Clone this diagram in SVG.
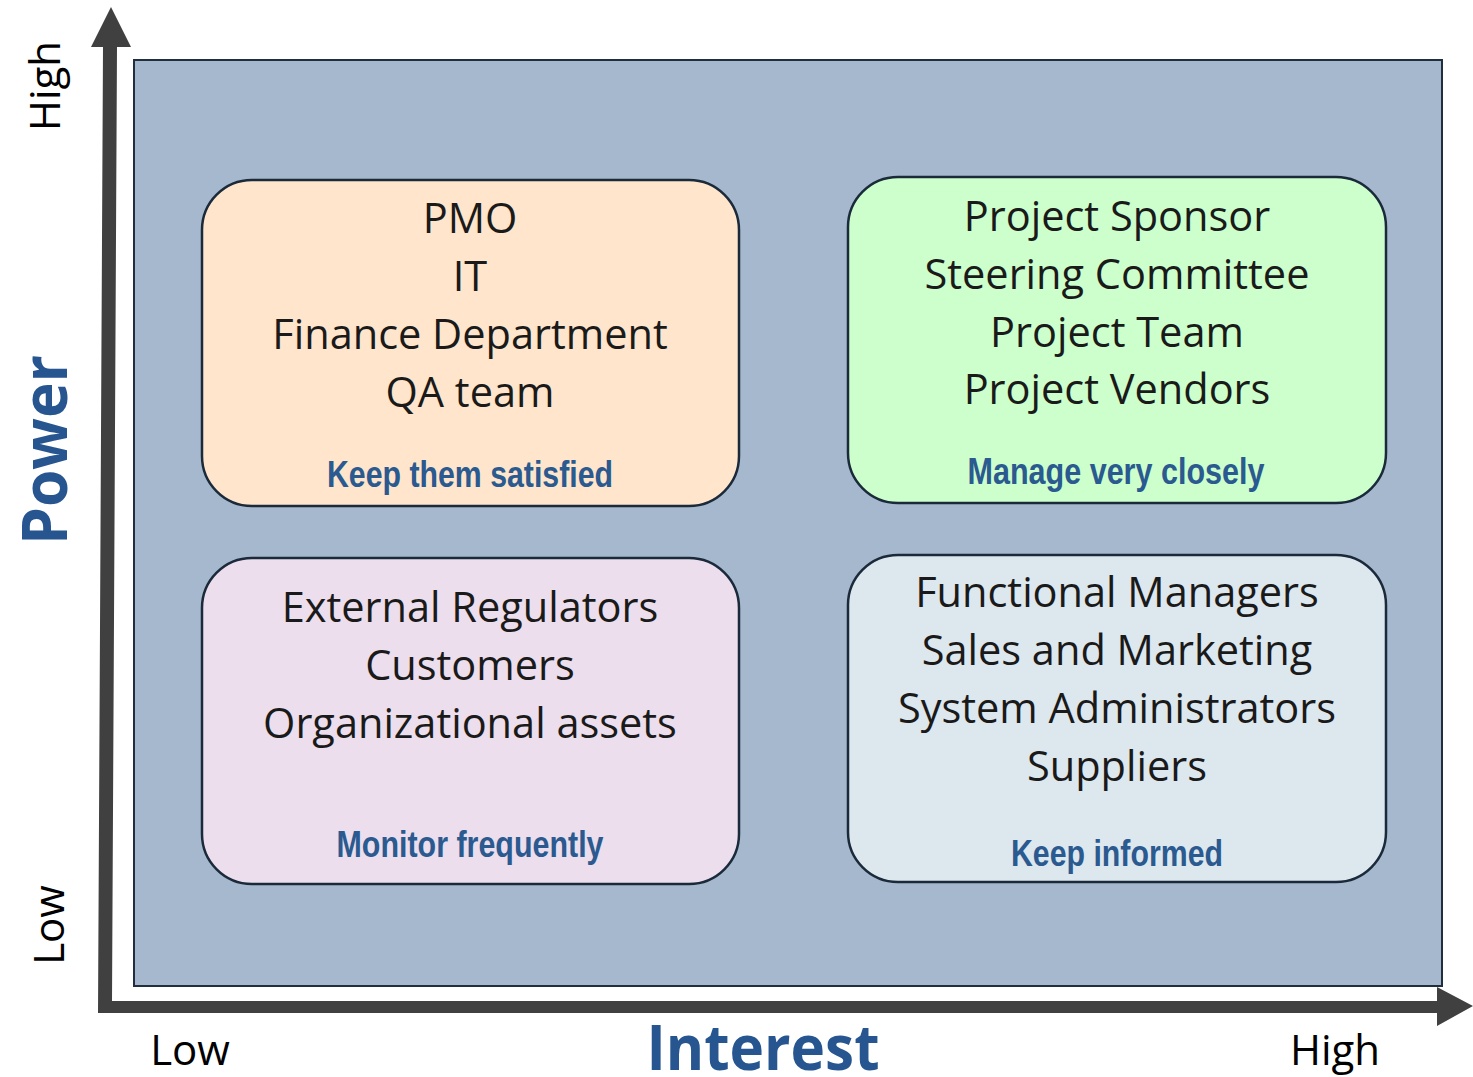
<svg xmlns="http://www.w3.org/2000/svg" width="1473" height="1077" viewBox="0 0 1473 1077">
<style>
.box{stroke:#1b2a3a;stroke-width:2.5}
.t{font-family:"Open Sans","Liberation Sans",sans-serif;font-size:41.5px;fill:#1a1a1a;text-anchor:middle}
.lbl{font-family:"Liberation Sans Narrow","Liberation Sans",sans-serif;font-weight:bold;font-size:36px;fill:#2a5a8f;text-anchor:middle}
.ax{font-family:"Open Sans","Liberation Sans",sans-serif;font-size:42px;fill:#000;text-anchor:middle}
.big{font-family:"Open Sans","Liberation Sans",sans-serif;font-weight:bold;font-size:62px;fill:#265590;text-anchor:middle}
</style>
<rect width="1473" height="1077" fill="#ffffff"/>
<rect id="grid" x="134" y="60" width="1308" height="926" fill="#a5b8cd" stroke="#1f2f40" stroke-width="2"/>
<g id="connectors" fill="#404040">
<path d="M103,47 L117,47 L112,1001 L1437,1001 L1437,987 L1473,1006 L1437,1026 L1437,1013 L98,1013 Z"/>
<path d="M91,47 L111,7 L131,47 Z"/>
</g>
<g id="keep-satisfied">
<rect class="box" x="202" y="180" width="537" height="326" rx="50" fill="#ffe5cb"/>
<text class="t" x="470" y="233">PMO</text>
<text class="t" x="470" y="291">IT</text>
<text class="t" x="470" y="349">Finance Department</text>
<text class="t" x="470" y="407">QA team</text>
<text class="lbl" x="470" y="487" textLength="286" lengthAdjust="spacingAndGlyphs">Keep them satisfied</text>
</g>
<g id="manage-closely">
<rect class="box" x="848" y="177" width="538" height="326" rx="50" fill="#ccffcc"/>
<text class="t" x="1117" y="231">Project Sponsor</text>
<text class="t" x="1117" y="289">Steering Committee</text>
<text class="t" x="1117" y="347">Project Team</text>
<text class="t" x="1117" y="404">Project Vendors</text>
<text class="lbl" x="1116" y="484" textLength="297" lengthAdjust="spacingAndGlyphs">Manage very closely</text>
</g>
<g id="monitor">
<rect class="box" x="202" y="558" width="537" height="326" rx="50" fill="#ecdeec"/>
<text class="t" x="470" y="622">External Regulators</text>
<text class="t" x="470" y="680">Customers</text>
<text class="t" x="470" y="738">Organizational assets</text>
<text class="lbl" x="470" y="857" textLength="267" lengthAdjust="spacingAndGlyphs">Monitor frequently</text>
</g>
<g id="keep-informed">
<rect class="box" x="848" y="555" width="538" height="327" rx="50" fill="#dde7ee"/>
<text class="t" x="1117" y="607">Functional Managers</text>
<text class="t" x="1117" y="665">Sales and Marketing</text>
<text class="t" x="1117" y="723">System Administrators</text>
<text class="t" x="1117" y="781">Suppliers</text>
<text class="lbl" x="1117" y="866" textLength="212" lengthAdjust="spacingAndGlyphs">Keep informed</text>
</g>
<g id="axis-labels">
<text class="ax" transform="translate(60,86) rotate(-90)">High</text>
<text class="ax" transform="translate(64,925) rotate(-90)">Low</text>
<text class="big" transform="translate(67,450) rotate(-90)" textLength="190" lengthAdjust="spacingAndGlyphs">Power</text>
<text class="ax" x="190" y="1065">Low</text>
<text class="ax" x="1335" y="1065">High</text>
<text class="big" x="763" y="1070" textLength="233" lengthAdjust="spacingAndGlyphs">Interest</text>
</g>
</svg>
